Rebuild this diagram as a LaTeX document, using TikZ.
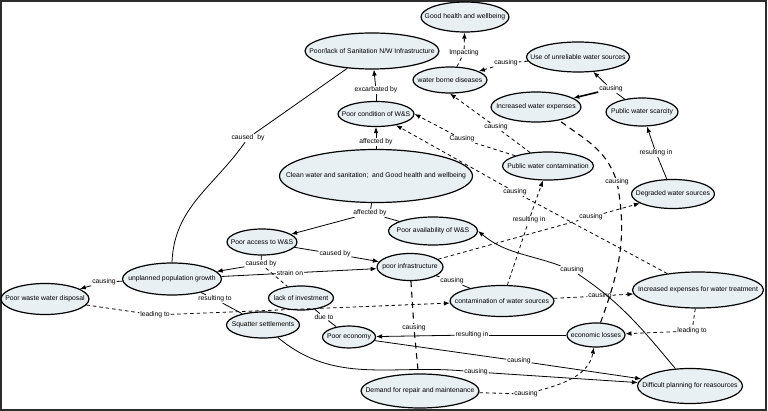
\documentclass[tikz,border=0pt]{standalone}
\usepackage{fontspec}
\setmainfont{Liberation Sans}
\usetikzlibrary{shapes.geometric,arrows.meta}
\definecolor{conceptfill}{RGB}{232,240,243}
\definecolor{framegray}{RGB}{45,45,45}
\tikzset{
	concept/.style={ellipse,draw,line width=1.2pt,fill=conceptfill,inner sep=0pt,font=\fontsize{6.8}{7.5}\selectfont,execute at begin node={\hbox to 0pt\bgroup\hss},execute at end node={\hss\egroup}},
	phrase/.style={fill=white,inner sep=0.8pt,font=\fontsize{6.8}{7.5}\selectfont},
	link/.style={line width=0.8pt},
	arr/.style={link,-{Latex[length=6pt,width=4.6pt]}},
	dashlink/.style={link,dash pattern=on 3.5pt off 3pt},
	dasharr/.style={arr,dash pattern=on 3.5pt off 3pt},
	longdash/.style={line width=1.1pt,dash pattern=on 6pt off 4.5pt}
}
\begin{document}
\begin{tikzpicture}[x=1pt,y=-1pt]
	\useasboundingbox (0,0) rectangle (768,411);
	\draw[framegray,line width=1.5pt] (1,1) rectangle (766,410);
	\node[concept,minimum width=88pt,minimum height=30pt] (health) at (465,17) {Good health and wellbeing};
	\node[concept,minimum width=134pt,minimum height=36pt] (sanit) at (372,51) {Poor/lack of Sanitation N/W Infrastructure};
	\node[concept,minimum width=74pt,minimum height=26pt] (borne) at (450,80) {water borne diseases};
	\node[concept,minimum width=103pt,minimum height=30pt] (unrel) at (578,57) {Use of unreliable water sources};
	\node[concept,minimum width=90pt,minimum height=30pt] (wexp) at (536,107) {Increased water expenses};
	\node[concept,minimum width=72pt,minimum height=28pt] (scarc) at (642,112) {Public water scarcity};
	\node[concept,minimum width=76pt,minimum height=25pt] (cond) at (376,114) {Poor condition of W\&S};
	\node[concept,minimum width=91pt,minimum height=28pt] (pubcont) at (548,166) {Public water contamination};
	\node[concept,minimum width=193pt,minimum height=53pt] (clean) at (376,176) {Clean water and sanitation;\ \ and Good health and wellbeing};
	\node[concept,minimum width=83pt,minimum height=29pt] (degr) at (673,194) {Degraded water sources};
	\node[concept,minimum width=70pt,minimum height=26pt] (access) at (262,242) {Poor access to W\&S};
	\node[concept,minimum width=89pt,minimum height=28pt] (avail) at (433,231) {Poor availability of W\&S};
	\node[concept,minimum width=99pt,minimum height=32pt] (growth) at (172,279) {unplanned population growth};
	\node[concept,minimum width=66pt,minimum height=27pt] (infra) at (410,267) {poor infrastructure};
	\node[concept,minimum width=88pt,minimum height=31pt] (waste) at (45,299) {Poor waste water disposal};
	\node[concept,minimum width=65pt,minimum height=24pt] (invest) at (301,298) {lack of investment};
	\node[concept,minimum width=104pt,minimum height=31pt] (contam) at (502,301) {contamination of water sources};
	\node[concept,minimum width=131pt,minimum height=36pt] (treat) at (698,290) {Increased expenses for water treatment};
	\node[concept,minimum width=73pt,minimum height=26pt] (squat) at (263,325) {Squatter settlements};
	\node[concept,minimum width=53pt,minimum height=22pt] (econ) at (349,337) {Poor economy};
	\node[concept,minimum width=58pt,minimum height=24pt] (loss) at (596,335) {economic losses};
	\node[concept,minimum width=118pt,minimum height=34pt] (repair) at (420,391) {Demand for repair and maintenance};
	\node[concept,minimum width=105pt,minimum height=35pt] (plan) at (690,386) {Difficult planning for reasources};
	\node[phrase] (p1) at (376,90) {excarbated by};
	\node[phrase] (p2) at (376,142) {affected by};
	\node[phrase] (p3) at (370,213) {affected by};
	\node[phrase] (p4) at (335,254) {caused by};
	\node[phrase] (p5) at (261,264) {caused by};
	\node[phrase] (p6) at (290,273) {strain on};
	\node[phrase] (p7) at (104,282) {causing};
	\node[phrase] (p8) at (248,138) {caused\ \ by};
	\node[phrase] (p9) at (215,299) {resulting to};
	\node[phrase] (p10) at (155,315) {leading to};
	\node[phrase] (p11) at (324,317) {due to};
	\node[phrase] (p12) at (452,281) {causing};
	\node[phrase] (p13) at (591,217) {causing};
	\node[phrase] (p14) at (414,328) {causing};
	\node[phrase] (p15) at (529,220) {resulting in};
	\node[phrase] (p16) at (600,296) {causing};
	\node[phrase] (p17) at (496,127) {causing};
	\node[phrase] (p18) at (462,139) {Causing};
	\node[phrase] (p19) at (515,192) {causing};
	\node[phrase] (p20) at (692,331) {leading to};
	\node[phrase] (p21) at (472,335) {resulting in};
	\node[phrase] (p22) at (617,182) {causing};
	\node[phrase] (p23) at (519,361) {causing};
	\node[phrase] (p24) at (476,372) {causing};
	\node[phrase] (p25) at (526,394) {causing};
	\node[phrase] (p26) at (572,270) {causing};
	\node[phrase] (p27) at (656,153) {resulting in};
	\node[phrase] (p28) at (611,89) {causing};
	\node[phrase] (p29) at (506,63) {causing};
	\node[phrase] (p30) at (464,53) {Impacting};
	\draw[link] (cond) -- (p1);
	\draw[arr] (p1) -- (sanit);
	\draw[link] (clean) -- (p2);
	\draw[arr] (p2) -- (cond);
	\draw[link] (clean) -- (p3);
	\draw[arr] (p3) -- (access);
	\draw[link] (p3) -- (avail);
	\draw[link] (access) -- (p4);
	\draw[arr] (p4) -- (infra);
	\draw[link] (access) -- (p5);
	\draw[arr] (p5) -- (growth);
	\draw[dashlink] (p5) -- (invest);
	\draw[link] (growth) -- (p6);
	\draw[arr] (p6) -- (infra);
	\draw[link] (growth) -- (p7);
	\draw[arr] (p7) -- (waste);
	\draw[link] (growth.north) to[out=88,in=235] (p8);
	\draw[link] (p8) -- (sanit);
	\draw[link] (growth) -- (p9);
	\draw[link] (p9) -- (squat);
	\draw[dashlink] (waste) -- (p10);
	\draw[dasharr] (p10) -- (contam);
	\draw[link] (invest) -- (p11);
	\draw[link] (p11) -- (econ);
	\draw[link] (infra) -- (p12);
	\draw[link] (p12) -- (contam);
	\draw[dashlink] (infra) -- (p13);
	\draw[dasharr] (p13) -- (degr);
	\draw[longdash] (infra) -- (p14);
	\draw[longdash] (p14) -- (repair);
	\draw[dashlink] (contam) -- (p15);
	\draw[dasharr] (p15) -- (pubcont);
	\draw[dashlink] (contam) -- (p16);
	\draw[dasharr] (p16) -- (treat);
	\draw[dashlink] (pubcont) -- (p17);
	\draw[dasharr] (p17) -- (borne.south);
	\draw[dashlink] (pubcont) -- (p18);
	\draw[dasharr] (p18) -- (cond.east);
	\draw[dashlink] (treat) -- (p19);
	\draw[dasharr] (p19) -- (cond);
	\draw[dashlink] (treat) -- (p20);
	\draw[dasharr] (p20) -- (loss);
	\draw[link] (loss) -- (p21);
	\draw[arr] (p21) -- (econ);
	\draw[longdash] (loss) to[out=70,in=-80] (p22);
	\draw[longdash] (p22) to[out=110,in=-37] (wexp.-30);
	\draw[link] (econ) -- (p23);
	\draw[arr] (p23) -- (plan);
	\draw[link] (squat.-40) to[out=-40,in=175] (p24);
	\draw[arr] (p24) -- (plan);
	\draw[dashlink] (repair) -- (p25);
	\draw[dasharr] (p25) to[out=15,in=-100] (loss);
	\draw[link] (plan) to[out=130,in=-34] (p26);
	\draw[arr] (p26) to[out=160,in=-40] (avail.east);
	\draw[link] (degr) -- (p27);
	\draw[arr] (p27) -- (scarc);
	\draw[link] (scarc) -- (p28);
	\draw[arr] (p28) -- (unrel);
	\draw[arr,line width=1.6pt] (p28) -- (wexp);
	\draw[dashlink] (unrel) -- (p29);
	\draw[dasharr] (p29) -- (borne);
	\draw[dashlink] (borne) -- (p30);
	\draw[dasharr] (p30) -- (health);
\end{tikzpicture}
\end{document}
